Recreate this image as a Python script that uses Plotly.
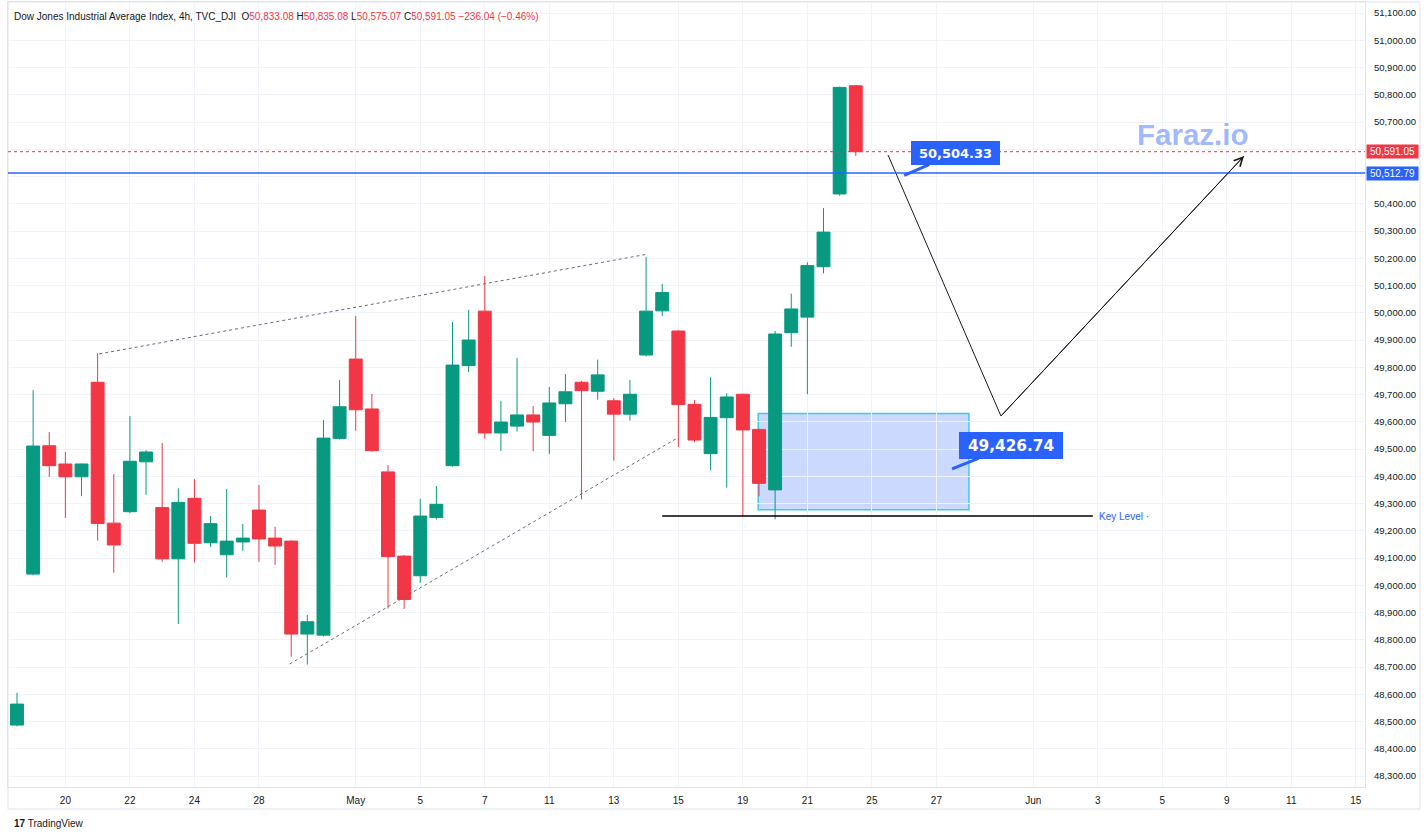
import plotly.graph_objects as go

# ---------------- data ----------------
opens = [48487, 49041, 49512, 49445, 49398, 49745, 49228, 49270, 49453, 49285,
         49097, 49319, 49156, 49112, 49159, 49276, 49173, 49162, 48821, 48817,
         49539, 49830, 49647, 49416, 49107, 49035, 49249, 49439, 49806, 50006,
         49559, 49584, 49625, 49550, 49666, 49745, 49712, 49677, 49628, 49845,
         50007, 49933, 49664, 49483, 49615, 49701, 49572, 49350, 49927, 49984,
         50169, 50436, 50833.08]
highs = [48605, 49716, 49562, 49489, 49447, 49852, 49408, 49621, 49496, 49522,
         49356, 49390, 49254, 49353, 49225, 49368, 49215, 49165, 48891, 49606,
         49753, 49988, 49702, 49441, 49111, 49317, 49364, 49966, 50010, 50135,
         49676, 49834, 49658, 49728, 49775, 49750, 49828, 49687, 49753, 50205,
         50106, 49936, 49680, 49764, 49705, 49703, 49574, 49933, 50070, 50185,
         50384, 50830, 50835.08]
lows = [48482, 49036, 49398, 49247, 49327, 49164, 49046, 49265, 49332, 49086,
        48858, 49084, 49141, 49029, 49126, 49086, 49075, 48738, 48709, 48812,
        49535, 49567, 49490, 48915, 48913, 49009, 49241, 49435, 49782, 49538,
        49493, 49564, 49492, 49481, 49599, 49315, 49681, 49457, 49604, 49840,
        49988, 49508, 49525, 49422, 49358, 49252, 49327, 49242, 49875, 49701,
        50145, 50430, 50575.07]
closes = [48564, 49511, 49439, 49398, 49445, 49227, 49148, 49455, 49489, 49097,
          49304, 49154, 49226, 49162, 49173, 49170, 49144, 48821, 48866, 49540,
          49655, 49644, 49494, 49105, 48948, 49254, 49297, 49808, 49900, 49559,
          49599, 49625, 49599, 49669, 49710, 49714, 49772, 49628, 49701, 50006,
          50074, 49663, 49533, 49616, 49691, 49570, 49374, 49922, 50014, 50173,
          50296, 50827, 50591.05]
bar_index = list(range(len(opens)))

tick_pos = [3, 7, 11, 15, 21, 25, 29, 33, 37, 41, 45, 49, 53, 57, 63, 67, 71, 75, 79, 83]
tick_text = ["20", "22", "24", "28", "May", "5", "7", "11", "13", "15", "19", "21",
             "25", "27", "Jun", "3", "5", "9", "11", "15"]
price_ticks = list(range(48300, 51101, 100))
hidden_price_ticks = [50600, 50500]   # covered by the price-scale labels

last_price = 50591.05
blue_level = 50512.79
key_level = 49254
zone_x = [45.95, 59.02]
zone_y = [49277, 49630]
upper_trend_x = [5.1, 38.98]
upper_trend_y = [49849, 50214]
lower_trend_x = [16.9, 40.9]
lower_trend_y = [48711, 49539]
key_x = [40.0, 66.7]
path_x = [54.0, 61.0, 76.07]
path_y = [50579, 49621, 50575]
callout_hi = (55.0, 50504.33)
callout_lo = (57.97, 49426.74)
watermark_pos = (72.85, 50656)

GREEN = "#089981"
RED = "#f23645"
BLUE = "#2962ff"
TXT = "#131722"
GRID = "#f0f3fa"
BORDER = "#e0e3eb"

fig = go.Figure()

# trendlines (dotted)
fig.add_trace(go.Scatter(x=upper_trend_x, y=upper_trend_y, mode="lines",
                         line=dict(color="#6a6d78", width=1, dash="dot"),
                         hoverinfo="skip", showlegend=False))
fig.add_trace(go.Scatter(x=lower_trend_x, y=lower_trend_y, mode="lines",
                         line=dict(color="#6a6d78", width=1, dash="dot"),
                         hoverinfo="skip", showlegend=False))

fig.add_trace(go.Candlestick(
    x=bar_index, open=opens, high=highs, low=lows, close=closes,
    increasing=dict(line=dict(color=GREEN, width=1), fillcolor=GREEN),
    decreasing=dict(line=dict(color=RED, width=1), fillcolor=RED),
    whiskerwidth=0, showlegend=False, hoverinfo="skip"))

# projected path
fig.add_trace(go.Scatter(x=path_x, y=path_y, mode="lines",
                         line=dict(color="#1b1b1b", width=1),
                         hoverinfo="skip", showlegend=False))

shapes = [
    dict(type="rect", xref="x", yref="y", x0=zone_x[0], x1=zone_x[1],
         y0=zone_y[0], y1=zone_y[1], fillcolor="rgba(41,98,255,0.24)",
         line=dict(color="rgba(0,188,212,0.7)", width=1.5), layer="below"),
    dict(type="line", xref="paper", yref="y", x0=0, x1=1, y0=blue_level, y1=blue_level,
         line=dict(color=BLUE, width=1.5)),
    dict(type="line", xref="paper", yref="y", x0=0, x1=1, y0=last_price, y1=last_price,
         line=dict(color=RED, width=1, dash="dot")),
    dict(type="line", xref="x", yref="y", x0=key_x[0], x1=key_x[1], y0=key_level, y1=key_level,
         line=dict(color="#000000", width=1.5)),
    dict(type="rect", xref="paper", yref="paper", x0=0, x1=1.0405, y0=-0.028, y1=1,
         line=dict(color=BORDER, width=1), layer="below"),
]

hdr = ("Dow Jones Industrial Average Index, 4h, TVC_DJI  "
       "O<span style='color:#f23645'>50,833.08</span> "
       "H<span style='color:#f23645'>50,835.08</span> "
       "L<span style='color:#f23645'>50,575.07</span> "
       "C<span style='color:#f23645'>50,591.05</span> "
       "<span style='color:#f23645'>\u2212236.04 (\u22120.46%)</span>")

annotations = [
    dict(xref="paper", yref="paper", x=0.003, y=0.981, xanchor="left", yanchor="middle",
         text=hdr, showarrow=False, font=dict(family="Liberation Sans", size=10, color=TXT)),
    dict(xref="paper", yref="paper", x=0.003, y=-0.0459, xanchor="left", yanchor="middle",
         text="<b>17</b> TradingView", showarrow=False,
         font=dict(family="Liberation Sans", size=10, color=TXT)),
    # price scale labels
    dict(xref="paper", yref="y", x=1, y=last_price, xanchor="left", yanchor="middle",
         xshift=1, text="50,591.05", showarrow=False, bgcolor=RED, borderpad=1,
         width=49, align="center",
         font=dict(family="Liberation Sans", size=10, color="white")),
    dict(xref="paper", yref="y", x=1, y=blue_level, xanchor="left", yanchor="middle",
         xshift=1, text="50,512.79", showarrow=False, bgcolor=BLUE, borderpad=1,
         width=49, align="center",
         font=dict(family="Liberation Sans", size=10, color="white")),
    # key level label
    dict(xref="x", yref="y", x=key_x[1] + 0.25, y=key_level, xanchor="left", yanchor="middle",
         text="Key Level \u00b7", showarrow=False,
         font=dict(family="Liberation Sans", size=10, color=BLUE)),
    # watermark
    dict(xref="x", yref="y", x=watermark_pos[0], y=watermark_pos[1], text="<b>Faraz.io</b>",
         showarrow=False, font=dict(family="Liberation Sans", size=29.5,
                                    color="rgba(41,98,255,0.45)")),
    # callouts
    dict(xref="x", yref="y", x=callout_hi[0], y=callout_hi[1], text="<b>50,504.33</b>",
         showarrow=True, ax=51.5, ay=-22.3, arrowhead=0, arrowwidth=3, arrowcolor=BLUE,
         bgcolor=BLUE, bordercolor=BLUE, borderwidth=1, borderpad=2, width=83, height=18,
         font=dict(family="DejaVu Sans", size=13, color="white")),
    dict(xref="x", yref="y", x=callout_lo[0], y=callout_lo[1], text="<b>49,426.74</b>",
         showarrow=True, ax=59, ay=-23.5, arrowhead=0, arrowwidth=3, arrowcolor=BLUE,
         bgcolor=BLUE, bordercolor=BLUE, borderwidth=1, borderpad=2, width=98, height=21,
         font=dict(family="DejaVu Sans", size=15.3, color="white")),
    # arrowhead of projected path
    dict(xref="x", yref="y", axref="x", ayref="y", x=path_x[2], y=path_y[2],
         ax=path_x[1], ay=path_y[1], text="", showarrow=True, arrowhead=5,
         arrowsize=1.7, arrowwidth=1, arrowcolor="#1b1b1b", standoff=0),
]

fig.update_layout(
    width=1428, height=837,
    margin=dict(l=8, r=63, t=2, b=50),
    paper_bgcolor="white", plot_bgcolor="white",
    boxgap=0.2, boxgroupgap=0,
    shapes=shapes, annotations=annotations,
    showlegend=False,
    font=dict(family="Liberation Sans", size=10, color=TXT),
    xaxis=dict(range=[-0.558, 83.57], tickmode="array", tickvals=tick_pos, ticktext=tick_text,
               showgrid=True, gridcolor=GRID, gridwidth=1, zeroline=False,
               rangeslider=dict(visible=False), showline=True, linecolor=BORDER,
               mirror=True, ticks="", ticklabelstandoff=4,
               tickfont=dict(family="Liberation Sans", size=10, color=TXT)),
    yaxis=dict(range=[48259.7, 51140.4], side="right", tickmode="array",
               tickvals=price_ticks,
               ticktext=["" if v in hidden_price_ticks else f"{v:,.2f}" for v in price_ticks],
               showgrid=True, gridcolor=GRID, gridwidth=1, zeroline=False,
               showline=True, linecolor=BORDER, mirror=True, ticks="",
               ticklabelstandoff=6,
               tickfont=dict(family="Liberation Sans", size=9.5, color=TXT)),
)

fig.write_html("out.html")
